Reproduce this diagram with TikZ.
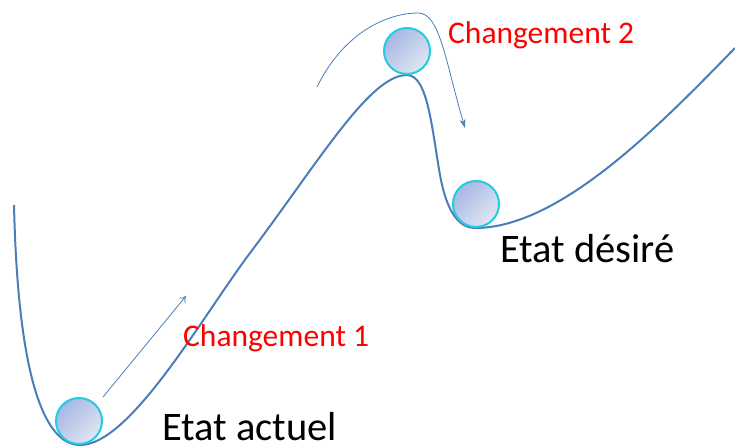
\documentclass[tikz,border=0pt]{standalone}
\usepackage{fontspec}
\setmainfont{Carlito}
\usetikzlibrary{arrows.meta}
\definecolor{curveblue}{HTML}{4A7EBB}
\definecolor{ringcyan}{HTML}{22CCE0}
\definecolor{balldark}{HTML}{A6B7E2}
\definecolor{balllight}{HTML}{E0E6F4}
\begin{document}
\begin{tikzpicture}[x=1pt,y=-1pt,
ball/.style={circle,draw=ringcyan,line width=2pt,inner sep=0pt,minimum size=46pt,
  top color=balldark,bottom color=balllight,shading angle=45},
valley/.style={draw=curveblue,line width=2pt},
move/.style={draw=curveblue,line width=0.8pt},
redlabel/.style={anchor=base west,inner sep=0pt,text=red,font=\fontsize{31.5}{36}\selectfont},
statelabel/.style={anchor=base west,inner sep=0pt,text=black,font=\fontsize{40.5}{46}\selectfont}]
\useasboundingbox (0,0) rectangle (735,447);
% landscape
\path[valley] (14,205) .. controls (18,380) and (45,445) .. (80,445)
  .. controls (130,445) and (200,320) .. (250,253)
  .. controls (320,160) and (370,75) .. (407,75)
  .. controls (428,75) and (432,130) .. (440,175)
  .. controls (447,214) and (460,228) .. (475,228)
  .. controls (560,228) and (660,125) .. (735,48);
% balls
\node[ball] (now) at (79,421) {};
\node[ball] (top) at (407,51) {};
\node[ball] (goal) at (476,204) {};
% moves
\coordinate (c1a) at (103,397);
\coordinate (c1b) at (186,296);
\coordinate (c2a) at (317,87);
\coordinate (c2b) at (465,128);
\draw[move,-{To[length=6pt,width=8pt]}] (c1a) -- (c1b);
\draw[move,-{Stealth[length=9pt,width=6pt]}] (c2a) .. controls (345,30) and (390,13) .. (418,13)
  .. controls (440,13) and (445,60) .. (c2b);
% labels
\node[redlabel] (chg1) at (183,346) {Changement 1};
\node[redlabel] (chg2) at (448,43) {Changement 2};
\node[statelabel] (actuel) at (162,440) {Etat actuel};
\node[statelabel] (desire) at (500,262) {Etat désiré};
\end{tikzpicture}
\end{document}
